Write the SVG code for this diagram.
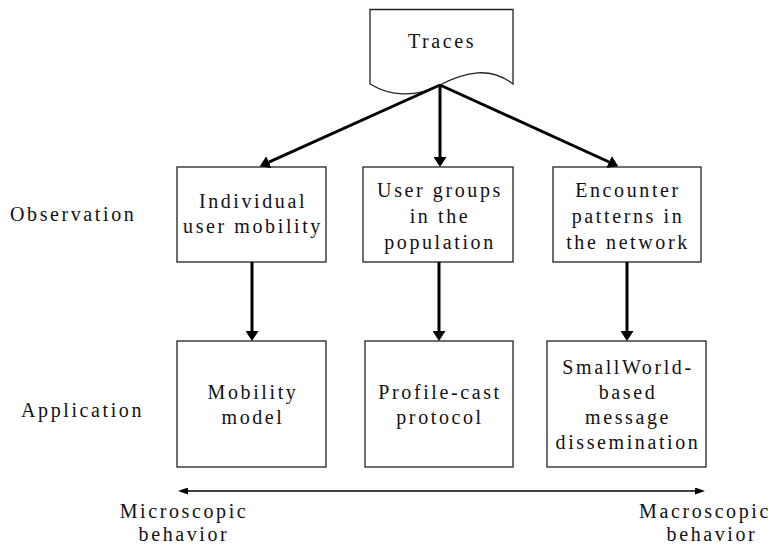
<svg xmlns="http://www.w3.org/2000/svg" width="774" height="546" viewBox="0 0 774 546">
<style>
text{font-family:'Liberation Serif','Times New Roman',serif;font-size:20px;letter-spacing:2.6px;fill:#111;text-anchor:middle}
.lbl{text-anchor:start}
.box{fill:#fff;stroke:#222;stroke-width:1.3}
.arr{stroke:#000;stroke-width:3;fill:none}
.thin{stroke:#000;stroke-width:1.3;fill:none}
</style>
<defs>
<marker id="ah" viewBox="0 0 10 13" refX="0" refY="6.5" markerWidth="10" markerHeight="13" markerUnits="userSpaceOnUse" orient="auto">
<path d="M0,0 L10,6.5 L0,13 Z" fill="#000"/>
</marker>
<marker id="sa" viewBox="0 0 10 7" refX="0" refY="3.5" markerWidth="10" markerHeight="7" markerUnits="userSpaceOnUse" orient="auto-start-reverse">
<path d="M0,0 L10,3.5 L0,7 Z" fill="#000"/>
</marker>
</defs>
<rect width="774" height="546" fill="#fff"/>
<g id="traces">
<path class="box" d="M370,9.5 H513 V84 C490,66 465,72 440,85 C415,98 390,96 370,84 Z"/>
<text x="442" y="48">Traces</text>
</g>
<g id="obs-label"><text class="lbl" x="10" y="221">Observation</text></g>
<g id="app-label"><text class="lbl" x="21" y="417">Application</text></g>
<g id="individual">
<rect class="box" x="177" y="167" width="149" height="95"/>
<text x="253" y="208">Individual</text>
<text x="253" y="233">user mobility</text>
</g>
<g id="groups">
<rect class="box" x="363" y="167" width="150" height="95"/>
<text x="440" y="197">User groups</text>
<text x="440" y="223">in the</text>
<text x="440" y="249">population</text>
</g>
<g id="encounter">
<rect class="box" x="553" y="167" width="148" height="95"/>
<text x="628" y="197">Encounter</text>
<text x="628" y="223">patterns in</text>
<text x="628" y="249">the network</text>
</g>
<g id="mobility-model">
<rect class="box" x="177" y="341" width="149" height="126"/>
<text x="253" y="399">Mobility</text>
<text x="253" y="424">model</text>
</g>
<g id="profile-cast">
<rect class="box" x="365" y="341" width="148" height="126"/>
<text x="440" y="399">Profile-cast</text>
<text x="440" y="424">protocol</text>
</g>
<g id="smallworld">
<rect class="box" x="547" y="341" width="159" height="126"/>
<text x="628" y="374">SmallWorld-</text>
<text x="628" y="399">based</text>
<text x="628" y="424">message</text>
<text x="628" y="449">dissemination</text>
</g>
<g id="micro"><text x="184" y="518">Microscopic</text><text x="184" y="541">behavior</text></g>
<g id="macro"><text x="705" y="518">Macroscopic</text><text x="712" y="541">behavior</text></g>
<g id="connectors">
<line class="arr" x1="440" y1="85" x2="268.9" y2="162.1" marker-end="url(#ah)"/>
<line class="arr" x1="440" y1="85" x2="440" y2="157" marker-end="url(#ah)"/>
<line class="arr" x1="440" y1="85" x2="609.1" y2="162" marker-end="url(#ah)"/>
<line class="arr" x1="252" y1="262" x2="252" y2="331" marker-end="url(#ah)"/>
<line class="arr" x1="439" y1="262" x2="439" y2="331" marker-end="url(#ah)"/>
<line class="arr" x1="627" y1="262" x2="627" y2="331" marker-end="url(#ah)"/>
<line class="thin" x1="188" y1="491" x2="695" y2="491" marker-start="url(#sa)" marker-end="url(#sa)"/>
</g>
</svg>
